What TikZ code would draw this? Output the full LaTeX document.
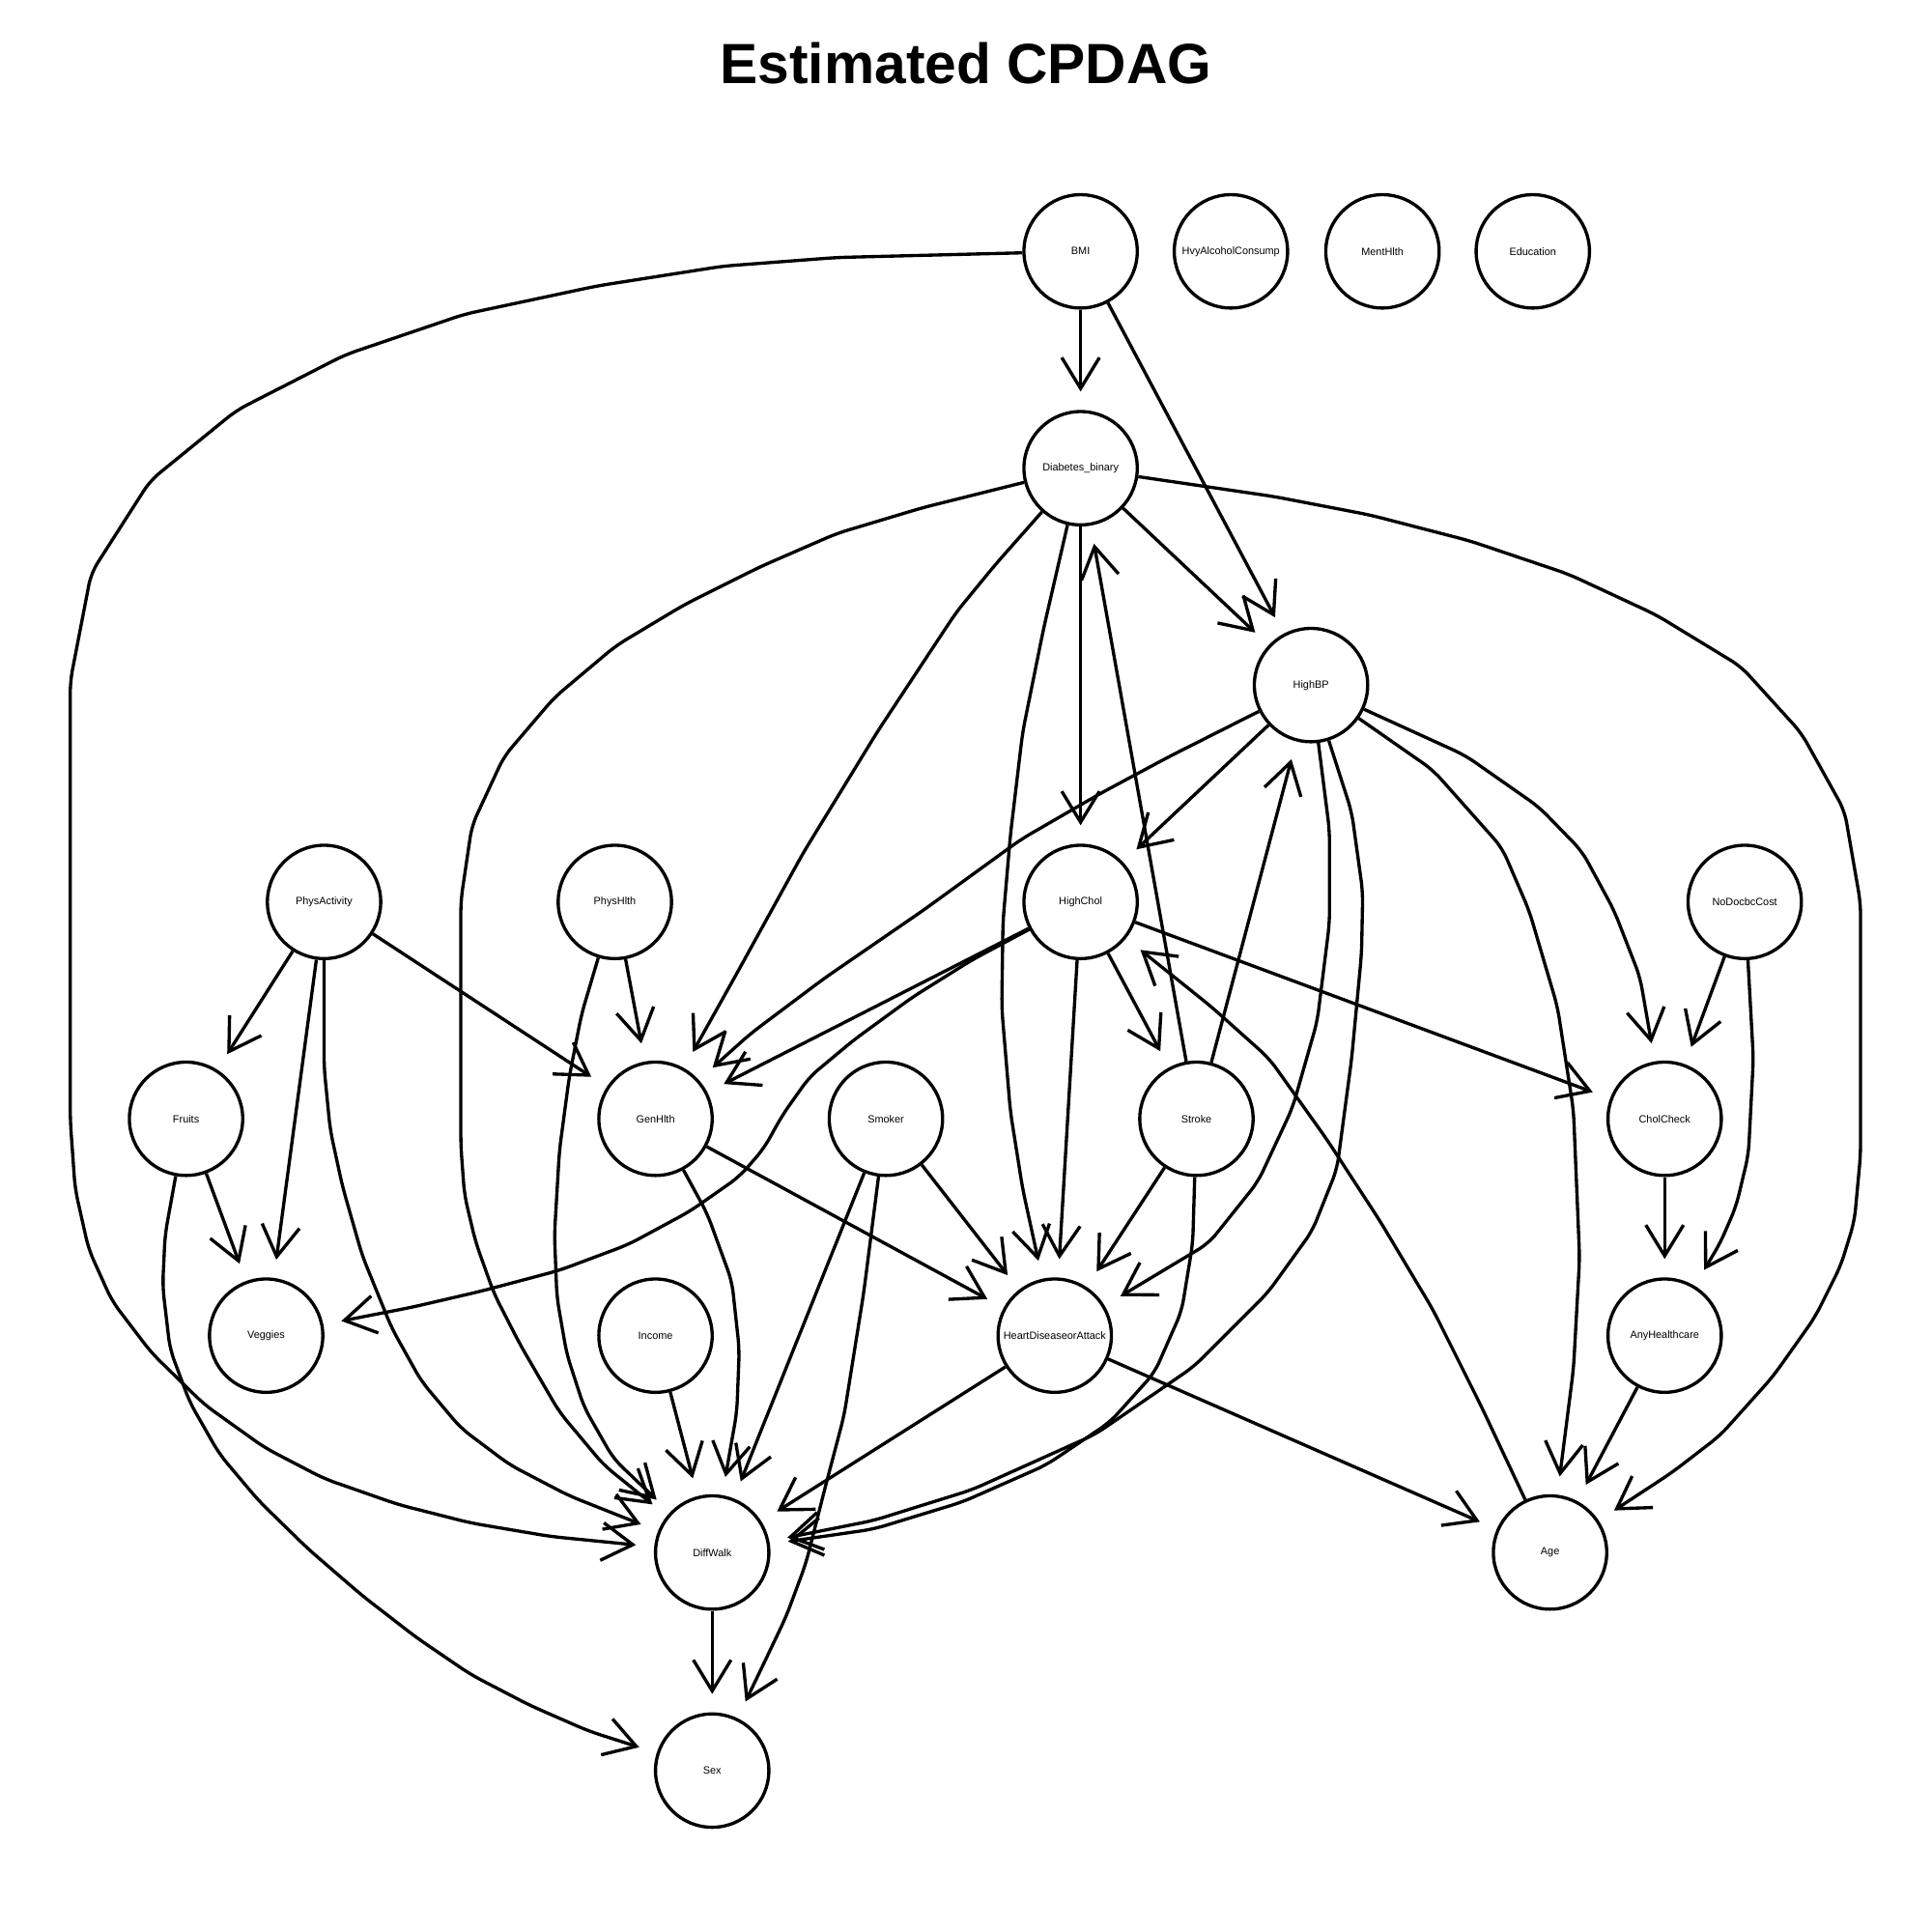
\documentclass[tikz,border=0pt]{standalone}
\usepackage{fontspec}
\setmainfont{Liberation Sans}
\usetikzlibrary{arrows.meta}
\tikzset{
  vnode/.style={circle, draw, line width=0.95pt, minimum size=1.1735cm, inner sep=0pt,
                font=\fontsize{3.1}{3.7}\selectfont},
  edge/.style={line width=0.95pt, -{Straight Barb[length=0.32cm,width=0.39cm]}, shorten >=0.19cm},
  curved/.style={edge, rounded corners=0.12cm},
  titlestyle/.style={font=\fontsize{16.7}{20}\selectfont\bfseries}
}
\begin{document}
\begin{tikzpicture}[x=0.012755cm, y=-0.012755cm]
\fill[white] (0,0) rectangle (1568,1568);
\useasboundingbox (0,0) rectangle (1568,1568);
\node[titlestyle] (title) at (784,51) {Estimated CPDAG};

% nodes
\node[vnode] (BMI) at (877,204) {BMI};
\node[vnode] (HvyAlc) at (999,204) {HvyAlcoholConsump};
\node[vnode] (MentHlth) at (1122,204) {MentHlth};
\node[vnode] (Education) at (1244,204) {Education};
\node[vnode] (Diab) at (877,380) {Diabetes\_binary};
\node[vnode] (HighBP) at (1064,556) {HighBP};
\node[vnode] (PhysAct) at (263,732) {PhysActivity};
\node[vnode] (PhysHlth) at (499,732) {PhysHlth};
\node[vnode] (HighChol) at (877,732) {HighChol};
\node[vnode] (NoDoc) at (1416,732) {NoDocbcCost};
\node[vnode] (Fruits) at (151,908) {Fruits};
\node[vnode] (GenHlth) at (532,908) {GenHlth};
\node[vnode] (Smoker) at (719,908) {Smoker};
\node[vnode] (Stroke) at (971,908) {Stroke};
\node[vnode] (CholCheck) at (1351,908) {CholCheck};
\node[vnode] (Veggies) at (216,1084) {Veggies};
\node[vnode] (Income) at (532,1084) {Income};
\node[vnode] (HDA) at (856,1084) {HeartDiseaseorAttack};
\node[vnode] (AnyHC) at (1351,1084) {AnyHealthcare};
\node[vnode] (DiffWalk) at (578,1260) {DiffWalk};
\node[vnode] (Age) at (1258,1260) {Age};
\node[vnode] (Sex) at (578,1437) {Sex};

% straight edges
\draw[edge] (BMI) -- (Diab);
\draw[edge] (BMI) -- (HighBP);
\draw[edge] (Diab) -- (HighBP);
\draw[edge] (Diab) -- (HighChol);
\draw[edge] (Stroke) -- (Diab);
\draw[edge] (Stroke) -- (HighBP);
\draw[edge] (HighBP) -- (HighChol);
\draw[edge] (HighChol) -- (GenHlth);
\draw[edge] (HighChol) -- (Stroke);
\draw[edge] (HighChol) -- (HDA);
\draw[edge] (HighChol) -- (CholCheck);
\draw[edge] (PhysAct) -- (Fruits);
\draw[edge] (PhysAct) -- (Veggies);
\draw[edge] (PhysAct) -- (GenHlth);
\draw[edge] (PhysHlth) -- (GenHlth);
\draw[edge] (Fruits) -- (Veggies);
\draw[edge] (GenHlth) -- (HDA);
\draw[edge] (Smoker) -- (HDA);
\draw[edge] (Smoker) -- (DiffWalk);
\draw[edge] (Stroke) -- (HDA);
\draw[edge] (CholCheck) -- (AnyHC);
\draw[edge] (NoDoc) -- (CholCheck);
\draw[edge] (AnyHC) -- (Age);
\draw[edge] (Income) -- (DiffWalk);
\draw[edge] (HDA) -- (DiffWalk);
\draw[edge] (HDA) -- (Age);
\draw[edge] (DiffWalk) -- (Sex);

% curved edges
\draw[curved] (BMI) -- (679,209) -- (587,216) -- (485,232) -- (377,255) -- (280,288) -- (192,333)
  -- (122,390) -- (74,465) -- (57,553) -- (57,909) -- (61,965) -- (72,1014) -- (91,1056)
  -- (123,1098) -- (166,1140) -- (215,1175) -- (263,1200) -- (323,1221) -- (382,1236)
  -- (447,1247) -- (DiffWalk);
\draw[curved] (Diab) -- (749,412) -- (679,433) -- (617,460) -- (555,491) -- (500,524) -- (450,566)
  -- (409,614) -- (383,670) -- (374,731) -- (374,930) -- (377,970) -- (386,1008) -- (401,1050)
  -- (422,1091) -- (454,1146) -- (490,1189) -- (DiffWalk);
\draw[curved] (Diab) -- (808,458) -- (776,497) -- (712,594) -- (652,692) -- (598,790) -- (GenHlth);
\draw[curved] (Diab) -- (847,510) -- (830,594) -- (820,678) -- (814,748) -- (813,818) -- (820,902)
  -- (830,965) -- (HDA);
\draw[curved] (Diab) -- (1034,403) -- (1112,418) -- (1193,439) -- (1273,466) -- (1344,499)
  -- (1413,541) -- (1462,595) -- (1497,658) -- (1510,733) -- (1510,937) -- (1505,991)
  -- (1494,1027) -- (1473,1069) -- (1439,1117) -- (1396,1165) -- (1357,1195) -- (Age);
\draw[curved] (HighBP) -- (949,614) -- (893,644) -- (829,681) -- (749,739) -- (669,794)
  -- (609,839) -- (GenHlth);
\draw[curved] (HighBP) -- (1079,674) -- (1079,749) -- (1069,829) -- (1049,899) -- (1021,959)
  -- (981,1009) -- (HDA);
\draw[curved] (HighBP) -- (1097,659) -- (1106,724) -- (1105,774) -- (1097,859) -- (1085,949)
  -- (1065,999) -- (1029,1049) -- (969,1109) -- (889,1164) -- (789,1209) -- (709,1234) -- (DiffWalk);
\draw[curved] (Stroke) -- (968,1009) -- (959,1064) -- (937,1114) -- (901,1154) -- (849,1189)
  -- (781,1219) -- (709,1241) -- (DiffWalk);
\draw[curved] (HighBP) -- (1163,625) -- (1219,688) -- (1241,739) -- (1264,817) -- (1277,901)
  -- (1282,1021) -- (1277,1111) -- (Age);
\draw[curved] (HighBP) -- (1189,613) -- (1249,655) -- (1284,691) -- (1310,739) -- (1331,793) -- (CholCheck);
\draw[curved] (NoDoc) -- (1423,859) -- (1419,937) -- (1409,979) -- (1396,1009) -- (AnyHC);
\draw[curved] (Age) -- (1202,1141) -- (1163,1063) -- (1120,991) -- (1077,925) -- (1030,859)
  -- (983,817) -- (HighChol);
\draw[curved] (HighChol) -- (789,779) -- (741,809) -- (693,844) -- (657,874) -- (635,905) -- (620,932)
  -- (600,955) -- (560,983) -- (510,1010) -- (454,1031) -- (390,1048) -- (334,1061) -- (Veggies);
\draw[curved] (PhysAct) -- (263,866) -- (268,917) -- (278,963) -- (294,1019) -- (318,1078)
  -- (342,1121) -- (374,1159) -- (414,1189) -- (462,1214) -- (DiffWalk);
\draw[curved] (PhysHlth) -- (472,823) -- (462,874) -- (454,934) -- (450,1002) -- (452,1053)
  -- (460,1099) -- (474,1142) -- (498,1184) -- (DiffWalk);
\draw[curved] (Fruits) -- (134,1002) -- (132,1044) -- (138,1095) -- (154,1138) -- (178,1180)
  -- (210,1218) -- (250,1257) -- (294,1295) -- (338,1329) -- (382,1359) -- (430,1384)
  -- (478,1405) -- (Sex);
\draw[curved] (GenHlth) -- (574,985) -- (594,1040) -- (600,1095) -- (598,1146) -- (DiffWalk);
\draw[curved] (Smoker) -- (701,1049) -- (685,1149) -- (670,1206) -- (654,1269) -- (638,1312)
  -- (618,1354) -- (Sex);
\end{tikzpicture}
\end{document}
